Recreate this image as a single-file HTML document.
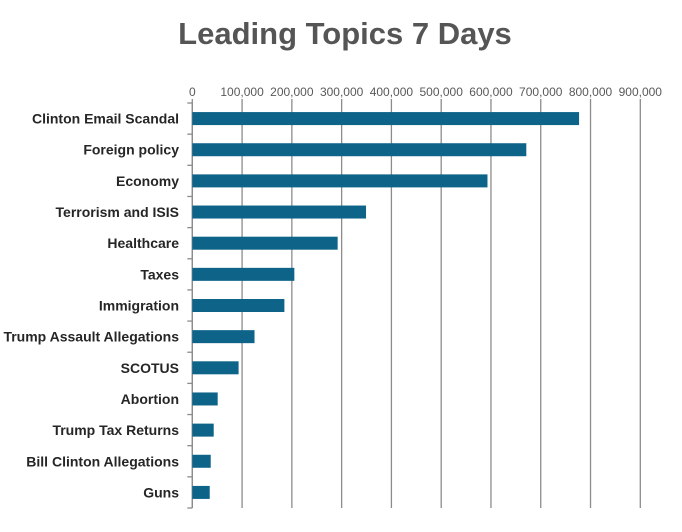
<!DOCTYPE html>
<html><head><meta charset="utf-8"><style>
body{margin:0;background:#fff;width:682px;height:527px;overflow:hidden;font-family:"Liberation Sans",sans-serif}
</style></head><body>
<svg width="682" height="527">
<text x="345" y="44" text-anchor="middle" font-size="31" font-weight="bold" fill="#555">Leading Topics 7 Days</text>
<g id="grid"></g><g id="bars"></g><g id="labels"></g>
</svg>
<script>
const categories=["Clinton Email Scandal","Foreign policy","Economy","Terrorism and ISIS","Healthcare","Taxes","Immigration","Trump Assault Allegations","SCOTUS","Abortion","Trump Tax Returns","Bill Clinton Allegations","Guns"];
const values=[777000,671000,593000,349000,292000,205000,185000,125000,93000,51000,43000,37000,35000];
const ticks=[0,100000,200000,300000,400000,500000,600000,700000,800000,900000];
const NS="http://www.w3.org/2000/svg";
const x0=192.3,x1=640.3,y0=103,y1=508,maxV=900000;
const xs=v=>x0+(v/maxV)*(x1-x0);
const band=(y1-y0)/categories.length;
function mk(t,a,p){const e=document.createElementNS(NS,t);for(const k in a)e.setAttribute(k,a[k]);p.appendChild(e);return e;}
const g=document.getElementById('grid'),b=document.getElementById('bars'),l=document.getElementById('labels');
ticks.forEach(t=>{
 const ln=mk('line',{x1:xs(t),x2:xs(t),y1:y0-4,y2:y1,stroke:'#8c8c8c','stroke-width':1.3},g);
 
 
 const tx=mk('text',{x:xs(t),y:96,'text-anchor':'middle','font-size':12,fill:'#595959'},g);
 tx.textContent=t.toLocaleString('en-US');
 
 
});
const ax=mk('line',{x1:x0,x2:x0,y1:y0,y2:y1,stroke:'#8c8c8c','stroke-width':1.3},g);


for(let i=0;i<=categories.length;i++){
 const tk=mk('line',{x1:x0-5,x2:x0,y1:y0+i*band,y2:y0+i*band,stroke:'#8c8c8c','stroke-width':1.3},g);
 
 
}
categories.forEach((c,i)=>{
 const cy=y0+band*(i+0.5);
 const r=mk('rect',{x:x0,y:cy-6.5,width:xs(values[i])-x0,height:13,fill:'#0e6389'},b);
 
 
 const t=mk('text',{x:179,y:cy+5,'text-anchor':'end','font-size':14,'font-weight':'bold',fill:'#262626'},l);
 t.textContent=c;
 
 
});
</script>
</body></html>
